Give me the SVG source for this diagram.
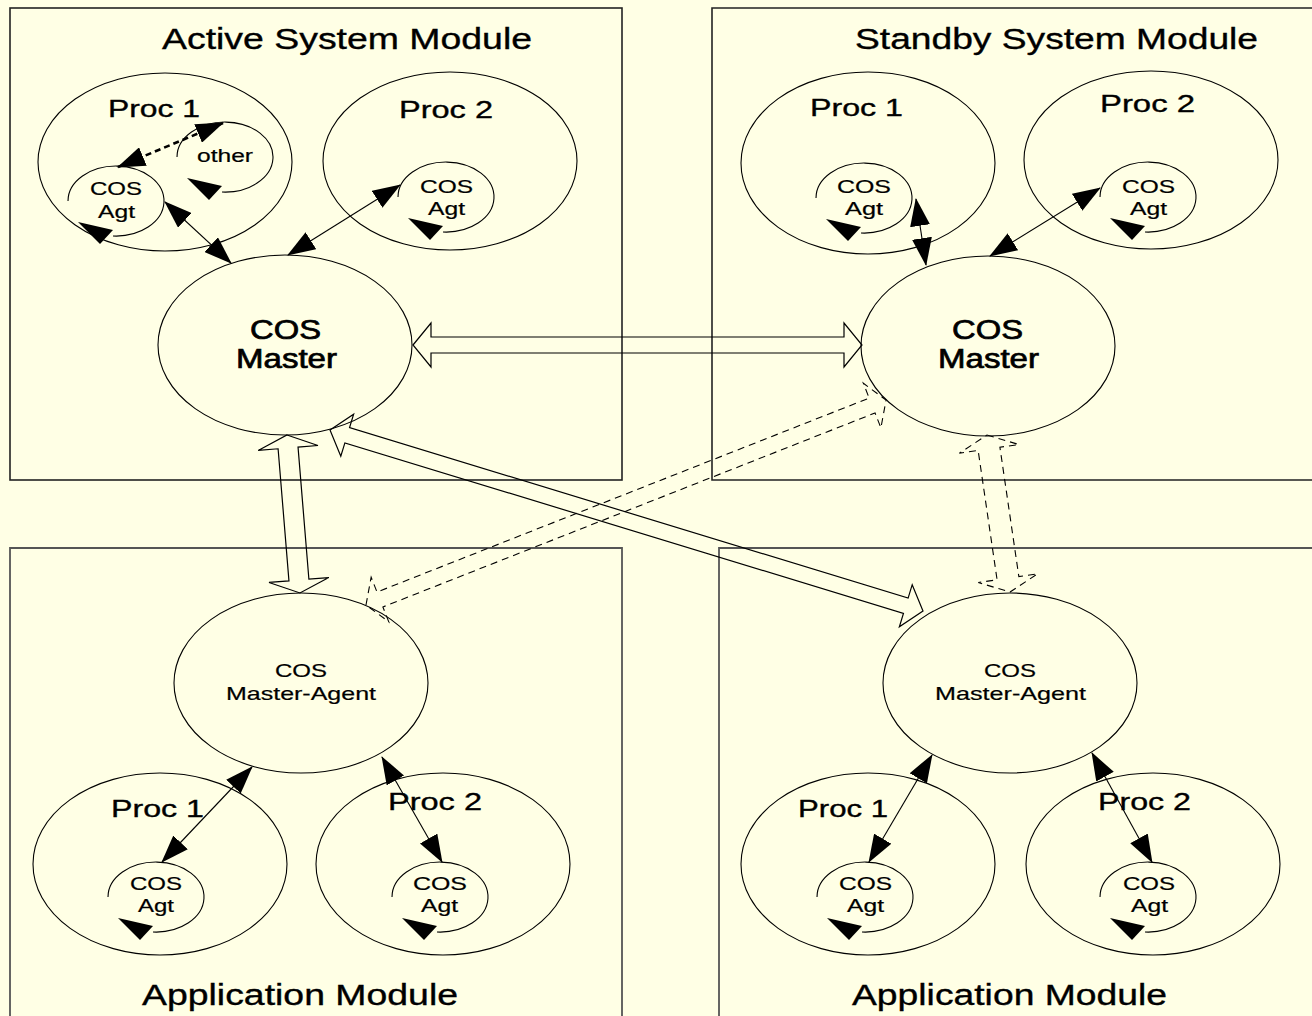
<svg xmlns="http://www.w3.org/2000/svg" xmlns:xlink="http://www.w3.org/1999/xlink" width="1312" height="1016" viewBox="0 0 1312 1016">
<style>
.bg{fill:#FFFFE5}
.box{fill:none;stroke:#222;stroke-width:1.6}
.boxg{fill:none;stroke:#555;stroke-width:1.8}
.ell{fill:none;stroke:#000;stroke-width:1.1}
.t{font-family:"Liberation Sans",Arial,sans-serif;fill:#000}
.title{font-size:29px;stroke:#000;stroke-width:0.35}
.proc{font-size:24px;stroke:#000;stroke-width:0.35}
.big{font-size:27px;stroke:#000;stroke-width:0.7}
.mid{font-size:19px;stroke:#000;stroke-width:0.2}
.small{font-size:18px;stroke:#000;stroke-width:0.2}
.line{stroke:#000;stroke-width:1.1;fill:none;marker-start:url(#ah);marker-end:url(#ah)}
.dline{stroke:#000;stroke-width:2.6;stroke-dasharray:6,4;fill:none;marker-start:url(#ah);marker-end:url(#ah)}
.hollow{fill:none;stroke:#000;stroke-width:1.2;stroke-linejoin:miter}
.hdash{fill:none;stroke:#000;stroke-width:1.1;stroke-dasharray:7,5}
</style>
<defs>
<marker id="ah" viewBox="0 0 28 20" refX="27" refY="10" markerWidth="28" markerHeight="20" markerUnits="userSpaceOnUse" orient="auto-start-reverse">
<path d="M0,0 L28,10 L0,20 z" fill="#000"/>
</marker>
<g id="agt">
<path d="M -48,0 A 48,35 0 1 1 -3,35" class="ell"/>
<polygon points="-38,21 -3,29 -16,43" fill="#000"/>
</g>
</defs>
<rect class="bg" x="0" y="0" width="1312" height="1016"/>

<g id="active-system-module">
<rect class="box" x="10" y="8" width="612" height="472"/>
<text class="t title" x="162" y="49" textLength="370" lengthAdjust="spacingAndGlyphs">Active System Module</text>
</g>
<g id="standby-system-module">
<path class="box" d="M1314,8 H712 V480 H1314"/>
<text class="t title" x="855" y="49" textLength="403" lengthAdjust="spacingAndGlyphs">Standby System Module</text>
</g>
<g id="application-module-left">
<path class="boxg" d="M10,1018 V548 H622 V1018"/>
<text class="t title" x="142" y="1005" textLength="316" lengthAdjust="spacingAndGlyphs">Application Module</text>
</g>
<g id="application-module-right">
<path class="boxg" d="M719,1018 V548 H1314"/>
<text class="t title" x="852" y="1005" textLength="315" lengthAdjust="spacingAndGlyphs">Application Module</text>
</g>

<!-- Active module nodes -->
<g id="a-proc1">
<ellipse class="ell" cx="165" cy="162" rx="127" ry="89"/>
<text class="t proc" x="108" y="117" textLength="92" lengthAdjust="spacingAndGlyphs">Proc 1</text>
</g>
<g id="a-proc1-agt">
<use xlink:href="#agt" href="#agt" x="116" y="201"/>
<text class="t small" x="90" y="195" textLength="52" lengthAdjust="spacingAndGlyphs">COS</text>
<text class="t small" x="98" y="218" textLength="37" lengthAdjust="spacingAndGlyphs">Agt</text>
</g>
<g id="a-proc1-other">
<use xlink:href="#agt" href="#agt" x="225" y="157"/>
<text class="t small" x="197" y="162" textLength="56" lengthAdjust="spacingAndGlyphs">other</text>
</g>
<g id="a-proc2">
<ellipse class="ell" cx="450" cy="161" rx="127" ry="89"/>
<text class="t proc" x="399" y="118" textLength="94" lengthAdjust="spacingAndGlyphs">Proc 2</text>
</g>
<g id="a-proc2-agt">
<use xlink:href="#agt" href="#agt" x="446" y="197"/>
<text class="t small" x="420" y="193" textLength="53" lengthAdjust="spacingAndGlyphs">COS</text>
<text class="t small" x="428" y="215" textLength="37" lengthAdjust="spacingAndGlyphs">Agt</text>
</g>
<g id="a-master">
<ellipse class="ell" cx="285" cy="345" rx="127" ry="90"/>
<text class="t big" x="250" y="339" textLength="71" lengthAdjust="spacingAndGlyphs">COS</text>
<text class="t big" x="236" y="368" textLength="101" lengthAdjust="spacingAndGlyphs">Master</text>
</g>

<!-- Standby module nodes -->
<g id="s-proc1">
<ellipse class="ell" cx="868" cy="163" rx="127" ry="91"/>
<text class="t proc" x="810" y="116" textLength="93" lengthAdjust="spacingAndGlyphs">Proc 1</text>
</g>
<g id="s-proc1-agt">
<use xlink:href="#agt" href="#agt" x="864" y="198"/>
<text class="t small" x="837" y="193" textLength="54" lengthAdjust="spacingAndGlyphs">COS</text>
<text class="t small" x="845" y="215" textLength="38" lengthAdjust="spacingAndGlyphs">Agt</text>
</g>
<g id="s-proc2">
<ellipse class="ell" cx="1151" cy="160" rx="127" ry="89"/>
<text class="t proc" x="1100" y="112" textLength="95" lengthAdjust="spacingAndGlyphs">Proc 2</text>
</g>
<g id="s-proc2-agt">
<use xlink:href="#agt" href="#agt" x="1148" y="197"/>
<text class="t small" x="1122" y="193" textLength="53" lengthAdjust="spacingAndGlyphs">COS</text>
<text class="t small" x="1130" y="215" textLength="37" lengthAdjust="spacingAndGlyphs">Agt</text>
</g>
<g id="s-master">
<ellipse class="ell" cx="988" cy="346" rx="127" ry="90"/>
<text class="t big" x="952" y="339" textLength="71" lengthAdjust="spacingAndGlyphs">COS</text>
<text class="t big" x="938" y="368" textLength="101" lengthAdjust="spacingAndGlyphs">Master</text>
</g>

<!-- Application module left -->
<g id="l-master-agent">
<ellipse class="ell" cx="301" cy="683" rx="127" ry="90"/>
<text class="t mid" x="275" y="677" textLength="52" lengthAdjust="spacingAndGlyphs">COS</text>
<text class="t mid" x="226" y="700" textLength="150" lengthAdjust="spacingAndGlyphs">Master-Agent</text>
</g>
<g id="l-proc1">
<ellipse class="ell" cx="160" cy="864" rx="127" ry="91"/>
<text class="t proc" x="111" y="817" textLength="93" lengthAdjust="spacingAndGlyphs">Proc 1</text>
</g>
<g id="l-proc1-agt">
<use xlink:href="#agt" href="#agt" x="156" y="897"/>
<text class="t small" x="130" y="890" textLength="52" lengthAdjust="spacingAndGlyphs">COS</text>
<text class="t small" x="138" y="912" textLength="36" lengthAdjust="spacingAndGlyphs">Agt</text>
</g>
<g id="l-proc2">
<ellipse class="ell" cx="443" cy="864" rx="127" ry="91"/>
<text class="t proc" x="388" y="810" textLength="94" lengthAdjust="spacingAndGlyphs">Proc 2</text>
</g>
<g id="l-proc2-agt">
<use xlink:href="#agt" href="#agt" x="440" y="897"/>
<text class="t small" x="413" y="890" textLength="54" lengthAdjust="spacingAndGlyphs">COS</text>
<text class="t small" x="421" y="912" textLength="37" lengthAdjust="spacingAndGlyphs">Agt</text>
</g>

<!-- Application module right -->
<g id="r-master-agent">
<ellipse class="ell" cx="1010" cy="683" rx="127" ry="90"/>
<text class="t mid" x="984" y="677" textLength="52" lengthAdjust="spacingAndGlyphs">COS</text>
<text class="t mid" x="935" y="700" textLength="151" lengthAdjust="spacingAndGlyphs">Master-Agent</text>
</g>
<g id="r-proc1">
<ellipse class="ell" cx="868" cy="864" rx="127" ry="91"/>
<text class="t proc" x="798" y="817" textLength="90" lengthAdjust="spacingAndGlyphs">Proc 1</text>
</g>
<g id="r-proc1-agt">
<use xlink:href="#agt" href="#agt" x="865" y="897"/>
<text class="t small" x="839" y="890" textLength="53" lengthAdjust="spacingAndGlyphs">COS</text>
<text class="t small" x="847" y="912" textLength="37" lengthAdjust="spacingAndGlyphs">Agt</text>
</g>
<g id="r-proc2">
<ellipse class="ell" cx="1153" cy="864" rx="127" ry="91"/>
<text class="t proc" x="1098" y="810" textLength="93" lengthAdjust="spacingAndGlyphs">Proc 2</text>
</g>
<g id="r-proc2-agt">
<use xlink:href="#agt" href="#agt" x="1148" y="897"/>
<text class="t small" x="1123" y="890" textLength="52" lengthAdjust="spacingAndGlyphs">COS</text>
<text class="t small" x="1131" y="912" textLength="37" lengthAdjust="spacingAndGlyphs">Agt</text>
</g>

<!-- Connectors -->
<g id="connectors">
<line class="dline" x1="118" y1="167" x2="223" y2="123"/>
<line class="line" x1="165" y1="202" x2="231" y2="263"/>
<line class="line" x1="400" y1="185" x2="288" y2="255"/>
<line class="line" x1="916" y1="199" x2="926" y2="265"/>
<line class="line" x1="1100" y1="188" x2="990" y2="256"/>
<line class="line" x1="252" y1="767" x2="162" y2="862"/>
<line class="line" x1="382" y1="757" x2="442" y2="862"/>
<line class="line" x1="932" y1="755" x2="869" y2="862"/>
<line class="line" x1="1092" y1="753" x2="1152" y2="862"/>

<polygon class="hollow" transform="translate(413,345)" points="0,0 18,-22 18,-8 431,-8 431,-22 449,0 431,22 431,8 18,8 18,22"/>
<polygon class="hollow" transform="translate(287,435) rotate(85.3)" points="0,0 13,-30 13,-10 145.5,-10 145.5,-30 158.5,0 145.5,30 145.5,10 13,10 13,30"/>
<polygon class="hollow" transform="translate(330,430) rotate(16.97)" points="0,0 18,-22 18,-8 602,-8 602,-22 620,0 602,22 602,8 18,8 18,22"/>
<polygon class="hdash" transform="translate(366,605) rotate(-21.51)" points="0,0 15,-24 15,-8 544,-8 544,-24 559,0 544,24 544,8 15,8 15,24"/>
<polygon class="hdash" transform="translate(987,435) rotate(81.67)" points="0,0 14,-30 14,-11 144.7,-11 144.7,-30 158.7,0 144.7,30 144.7,11 14,11 14,30"/>
</g>
</svg>
